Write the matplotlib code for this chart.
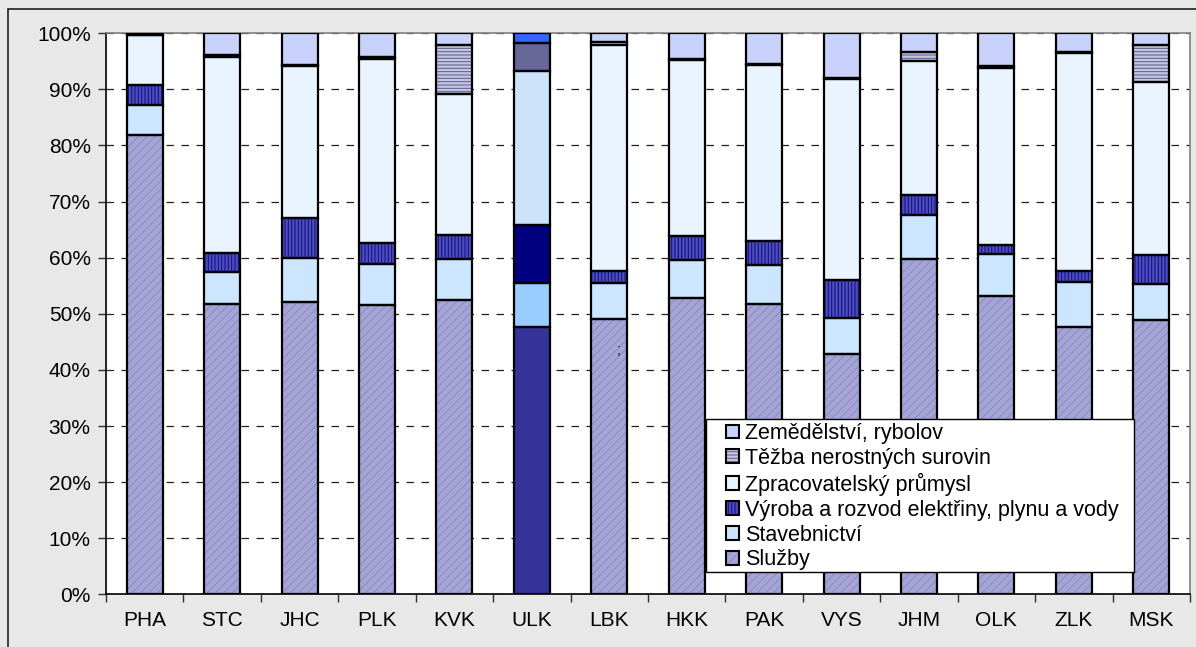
import numpy as np
import matplotlib
matplotlib.use("Agg")
import matplotlib.pyplot as plt
from matplotlib.patches import Patch, Rectangle

plt.rcParams['font.family'] = ['Liberation Sans', 'DejaVu Sans']
plt.rcParams['hatch.linewidth'] = 0.7

# kraje
regions = ['PHA', 'STC', 'JHC', 'PLK', 'KVK', 'ULK', 'LBK',
           'HKK', 'PAK', 'VYS', 'JHM', 'OLK', 'ZLK', 'MSK']

# podíly odvětví (%), odspodu nahoru
sluzby = [81.9, 51.8, 52.1, 51.5, 52.4, 47.6, 49.0, 52.9, 51.7, 42.8, 59.8, 53.2, 47.6, 48.9]
stavebnictvi = [5.4, 5.7, 7.8, 7.3, 7.3, 7.9, 6.5, 6.7, 7.0, 6.4, 7.9, 7.4, 8.1, 6.5]
vyroba = [3.4, 3.3, 7.2, 3.9, 4.3, 10.4, 2.2, 4.2, 4.3, 6.8, 3.5, 1.6, 1.9, 5.1]
zpracovatelsky = [9.0, 35.0, 27.0, 32.8, 25.2, 27.4, 40.3, 31.4, 31.4, 35.8, 23.9, 31.7, 38.8, 30.8]
tezba = [0.0, 0.3, 0.3, 0.3, 8.7, 5.0, 0.5, 0.3, 0.2, 0.2, 1.5, 0.3, 0.3, 6.7]
zemedelstvi = [0.3, 3.9, 5.6, 4.2, 2.1, 1.7, 1.5, 4.5, 5.4, 8.0, 3.4, 5.8, 3.3, 2.0]

labels = ['Služby', 'Stavebnictví', 'Výroba a rozvod elektřiny, plynu a vody',
          'Zpracovatelský průmysl', 'Těžba nerostných surovin', 'Zemědělství, rybolov']
series = [sluzby, stavebnictvi, vyroba, zpracovatelsky, tezba, zemedelstvi]

# barva, barva šrafy, šrafa
styles = [('#a4a4d6', '#8a8ac2', '////'),
          ('#cce6ff', '#bcdaf8', None),
          ('#4c4cc0', '#10107a', '|||||'),
          ('#eaf4ff', '#dfeefc', None),
          ('#c4c4e0', '#5c5c8e', '-----'),
          ('#c8d2fa', '#b4c0f2', None)]
ulk_colors = ['#333399', '#99ccff', '#000080', '#cce4fa', '#666699', '#3366ff']

fig = plt.figure(figsize=(11.96, 6.47), dpi=100, facecolor='#e8e8e8')
ax = fig.add_axes([106 / 1196, 1 - 594.3 / 647, (1190 - 106) / 1196, (594.3 - 33.3) / 647])
fig.patches.append(Rectangle((8 / 1196, -0.1), 1.2, 1 - 9 / 647 + 0.1, transform=fig.transFigure,
                             fill=False, edgecolor='#202020', lw=1.2, zorder=0))

x = np.arange(len(regions))
w = 0.465
bottom = np.zeros(len(regions))
for k, (vals, (fc, hc, hatch)) in enumerate(zip(series, styles)):
    vals = np.array(vals)
    for i in range(len(regions)):
        if regions[i] == 'ULK':
            face, hcol, hh = ulk_colors[k], None, None
        else:
            face, hcol, hh = fc, hc, hatch
        ax.bar(x[i], vals[i], w, bottom=bottom[i], color=face,
               edgecolor=hcol if hh else face, hatch=hh, linewidth=0, zorder=2)
        ax.bar(x[i], vals[i], w, bottom=bottom[i], fill=False,
               edgecolor='black', linewidth=1.6, zorder=3)
    bottom += vals

ax.set_xlim(-0.5, len(regions) - 0.5)
ax.set_ylim(0, 100)
ax.set_yticks(np.arange(0, 101, 10))
ax.set_yticklabels([f'{v}%' for v in range(0, 101, 10)])
ax.set_xticks(x)
ax.set_xticklabels(regions)
ax.set_xticks(np.arange(-0.5, len(regions)), minor=True)
ax.tick_params(axis='x', which='major', length=0, pad=12, labelsize=15)
ax.tick_params(axis='x', which='minor', length=6, width=1, color='#303030')
ax.tick_params(axis='y', length=6, width=1, pad=5, labelsize=15, color='#303030')

ax.yaxis.grid(True, linestyle=(0, (6, 6)), color='#202020', linewidth=0.9, zorder=1)
ax.set_axisbelow(True)
for s in ['left', 'bottom']:
    ax.spines[s].set_color('black')
    ax.spines[s].set_linewidth(1.2)
for s in ['top', 'right']:
    ax.spines[s].set_color('#808080')
    ax.spines[s].set_linewidth(1.2)

ax.text(6.12, 43.5, ';', fontsize=10, ha='center', va='center', zorder=4)

# rámeček legendy
fig.patches.append(Rectangle((706 / 1196, 1 - 572 / 647), 428 / 1196, 153 / 647,
                             transform=fig.transFigure, facecolor='white',
                             edgecolor='black', lw=1.0, zorder=5))
handles = []
for fc, hc, hatch in styles:
    inner = Patch(facecolor=fc, edgecolor=hc if hatch else fc, hatch=hatch, linewidth=0)
    outer = Patch(fill=False, edgecolor='black', linewidth=1.5)
    handles.append((inner, outer))
leg = fig.legend(handles[::-1], labels[::-1], loc='upper left',
                 bbox_to_anchor=(726 / 1196, 1 - 423 / 647), fontsize=15.5,
                 frameon=False, handlelength=0.6, handleheight=0.6, handletextpad=0.3,
                 labelspacing=0.18, borderpad=0, borderaxespad=0)
leg.set_zorder(10)

fig.savefig('out.png', dpi=100, facecolor=fig.get_facecolor())
